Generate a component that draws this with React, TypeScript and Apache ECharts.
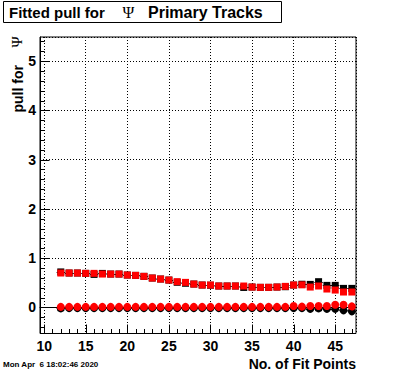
import React, { useEffect, useRef } from "react";
import * as echarts from "echarts";

const fitPoints = [12, 13, 14, 15, 16, 17, 18, 19, 20, 21, 22, 23, 24, 25, 26, 27, 28, 29, 30, 31, 32, 33, 34, 35, 36, 37, 38, 39, 40, 41, 42, 43, 44, 45, 46, 47];

const redSquares = [0.698, 0.698, 0.698, 0.691, 0.691, 0.677, 0.677, 0.677, 0.657, 0.65, 0.63, 0.596, 0.576, 0.555, 0.522, 0.508, 0.474, 0.454, 0.454, 0.434, 0.434, 0.434, 0.434, 0.413, 0.407, 0.407, 0.413, 0.427, 0.454, 0.458, 0.413, 0.434, 0.373, 0.352, 0.312, 0.312];
const blackSquares = [0.72, 0.698, 0.698, 0.691, 0.67, 0.69, 0.677, 0.677, 0.657, 0.65, 0.63, 0.596, 0.576, 0.555, 0.51, 0.49, 0.474, 0.454, 0.45, 0.434, 0.434, 0.434, 0.405, 0.413, 0.407, 0.407, 0.413, 0.42, 0.454, 0.47, 0.467, 0.522, 0.447, 0.447, 0.386, 0.386];
const redCircles = [0.01, 0.01, 0.01, 0.01, 0.01, 0.01, 0.01, 0.01, 0.01, 0.01, 0.01, 0.01, 0.01, 0.01, 0.01, 0.01, 0.01, 0.01, 0.01, 0.01, 0.01, 0.01, 0.01, 0.01, 0.01, 0.01, 0.01, 0.01, 0.027, 0.015, 0.027, 0.027, 0.027, 0.054, 0.054, 0.02];
const blackCircles = [-0.02, -0.015, -0.015, -0.015, -0.015, -0.015, -0.015, -0.015, -0.015, -0.015, -0.015, -0.015, -0.015, -0.015, -0.015, -0.015, -0.015, -0.015, -0.015, -0.015, -0.015, -0.015, -0.015, -0.015, -0.015, -0.015, -0.015, -0.015, -0.015, -0.015, -0.03, -0.02, -0.03, -0.03, -0.06, -0.08];

const xMajorTicks = [10, 15, 20, 25, 30, 35, 40, 45];
const xMinorTicks = [11, 12, 13, 14, 16, 17, 18, 19, 21, 22, 23, 24, 26, 27, 28, 29, 31, 32, 33, 34, 36, 37, 38, 39, 41, 42, 43, 44, 46, 47];
const yMajorTicks = [0, 1, 2, 3, 4, 5];
const yMinorTicks = [-0.4, -0.2, 0.2, 0.4, 0.6, 0.8, 1.2, 1.4, 1.6, 1.8, 2.2, 2.4, 2.6, 2.8, 3.2, 3.4, 3.6, 3.8, 4.2, 4.4, 4.6, 4.8, 5.2, 5.4];

const X_MIN = 9.5;
const X_MAX = 47.5;
const Y_MIN = -0.53;
const Y_MAX = 5.49;

const FONT = "'Liberation Sans', Arial, Helvetica, sans-serif";
const SERIF = "'Liberation Serif', 'DejaVu Serif', serif";

export default function App() {
  const ref = useRef<HTMLDivElement>(null);

  useEffect(() => {
    if (!ref.current) return;
    const chart = echarts.init(ref.current, undefined, { renderer: "svg" });

    const tickData = [
      ...xMajorTicks.map((v) => [0, v, 1]),
      ...xMinorTicks.map((v) => [0, v, 0]),
      ...yMajorTicks.map((v) => [1, v, 1]),
      ...yMinorTicks.map((v) => [1, v, 0]),
    ];

    const errBar = (data: number[]) => ({
      type: "custom",
      z: 2,
      silent: true,
      data: fitPoints.map((x, i) => [x, data[i]]),
      renderItem: (_p: any, api: any) => {
        const x = api.value(0);
        const y = api.value(1);
        const a = api.coord([x - 0.5, y]);
        const b = api.coord([x + 0.5, y]);
        const yy = Math.round(a[1]) + 0.5;
        return {
          type: "line",
          shape: { x1: a[0], y1: yy, x2: b[0], y2: yy },
          style: { stroke: "#000", lineWidth: 1 },
        };
      },
    });

    const scatter = (data: number[], symbol: string, size: number, color: string, z: number) => ({
      type: "scatter",
      z,
      symbol,
      symbolSize: size,
      itemStyle: { color, opacity: 1 },
      emphasis: { disabled: true },
      data: fitPoints.map((x, i) => [x, data[i]]),
    });

    chart.setOption({
      animation: false,
      backgroundColor: "#fff",
      grid: {
        left: 40,
        right: 40,
        top: 37,
        bottom: 38.5,
        show: true,
        borderColor: "#000",
        borderWidth: 1,
        backgroundColor: "#fff",
        containLabel: false,
      },
      xAxis: {
        type: "value",
        min: X_MIN,
        max: X_MAX,
        splitNumber: 8,
        axisLine: { show: true, lineStyle: { color: "#000", width: 1 } },
        axisTick: { show: false },
        minorTick: { show: false },
        splitLine: { show: true, lineStyle: { color: "#000", width: 1, type: [1, 2] } },
        axisLabel: {
          margin: 5,
          color: "#000",
          fontFamily: FONT,
          fontWeight: "bold",
          fontSize: 14,
          formatter: (v: number) => (Math.abs(v % 5) < 1e-6 ? String(v) : ""),
        },
      },
      yAxis: {
        type: "value",
        min: Y_MIN,
        max: Y_MAX,
        splitNumber: 6,
        axisLine: { show: true, lineStyle: { color: "#000", width: 1 } },
        axisTick: { show: false },
        minorTick: { show: false },
        splitLine: { show: true, lineStyle: { color: "#000", width: 1, type: [1, 2] } },
        axisLabel: {
          margin: 4,
          color: "#000",
          fontFamily: FONT,
          fontWeight: "bold",
          fontSize: 14,
          formatter: (v: number) => (Math.abs(v - Math.round(v)) < 1e-6 ? String(Math.round(v)) : ""),
        },
      },
      series: [
        errBar(blackSquares),
        errBar(blackCircles),
        scatter(blackSquares, "rect", 7, "#000", 3),
        scatter(blackCircles, "circle", 8, "#000", 3),
        scatter(redSquares, "rect", 7, "#ff0000", 4),
        scatter(redCircles, "circle", 8, "#ff0000", 4),
        {
          type: "custom",
          z: 5,
          silent: true,
          data: tickData,
          renderItem: (_p: any, api: any) => {
            const axis = api.value(0);
            const v = api.value(1);
            const major = api.value(2) === 1;
            if (axis === 0) {
              const len = major ? 9 : 4.5;
              const p = api.coord([v, Y_MIN]);
              const x = Math.round(p[0]) + 0.5;
              return {
                type: "line",
                shape: { x1: x, y1: p[1], x2: x, y2: p[1] - len },
                style: { stroke: "#000", lineWidth: 1 },
              };
            }
            const len = major ? 9.5 : 4.75;
            const p = api.coord([X_MIN, v]);
            const y = Math.round(p[1]) + 0.5;
            return {
              type: "line",
              shape: { x1: p[0], y1: y, x2: p[0] + len, y2: y },
              style: { stroke: "#000", lineWidth: 1 },
            };
          },
        },
      ],
      graphic: [
        {
          type: "rect",
          shape: { x: 3.5, y: 1.5, width: 278, height: 21 },
          style: { fill: "#fff", stroke: "#000", lineWidth: 1 },
        },
        {
          type: "text",
          x: 9,
          y: 12,
          style: { text: "Fitted pull for", fill: "#000", font: `bold 15px ${FONT}`, align: "left", verticalAlign: "middle" },
        },
        {
          type: "text",
          x: 128.5,
          y: 12,
          style: { text: "Ψ", fill: "#000", font: `16px ${SERIF}`, align: "center", verticalAlign: "middle" },
        },
        {
          type: "text",
          x: 148,
          y: 12,
          style: { text: "Primary Tracks", fill: "#000", font: `bold 16px ${FONT}`, align: "left", verticalAlign: "middle" },
        },
        {
          type: "text",
          x: 17.5,
          y: 112.5,
          rotation: Math.PI / 2,
          style: { text: "pull for", fill: "#000", font: `bold 14px ${FONT}`, align: "left", verticalAlign: "middle" },
        },
        {
          type: "text",
          x: 17,
          y: 42,
          rotation: Math.PI / 2,
          style: { text: "Ψ", fill: "#000", font: `15px ${SERIF}`, align: "center", verticalAlign: "middle" },
        },
        {
          type: "text",
          x: 356,
          y: 363.5,
          style: { text: "No. of Fit Points", fill: "#000", font: `bold 14px ${FONT}`, align: "right", verticalAlign: "middle" },
        },
        {
          type: "text",
          x: 3,
          y: 364.5,
          style: { text: "Mon Apr  6 18:02:46 2020", fill: "#000", font: `bold 8px ${FONT}`, align: "left", verticalAlign: "middle" },
        },
      ],
    });

    return () => chart.dispose();
  }, []);

  return (
    <div
      ref={ref}
      style={{ position: "absolute", left: 0, top: 0, width: 396, height: 372, background: "#fff" }}
    />
  );
}
